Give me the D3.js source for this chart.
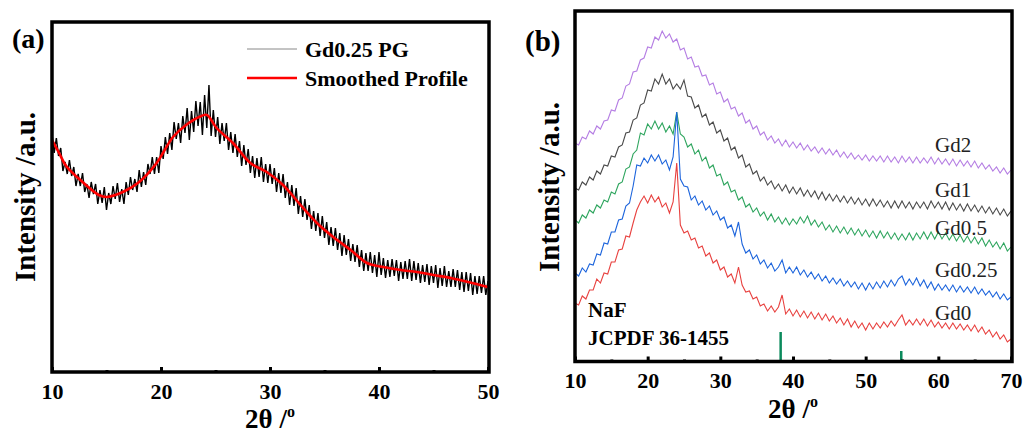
<!DOCTYPE html>
<html><head><meta charset="utf-8">
<script src="https://cdn.jsdelivr.net/npm/d3@7"></script>
<style>
body{margin:0;background:#fff}
svg{display:block}
text{font-family:"Liberation Serif","Times New Roman",serif}
</style>
</head><body>
<svg id="c" width="1024" height="434"></svg>
<script>
// ---------- Panel (a) data ----------
const ticksA = [10, 20, 30, 40, 50];
const minorA = [15, 25, 35, 45];
const stepA = 0.2; // 2θ sampling step of the raw pattern
const rawA = [
238,219,234,216,224,201,210,198,212,196,
205,186,198,186,199,180,188,174,190,178,
188,168,182,169,185,162,179,168,186,173,
189,170,183,168,190,177,195,182,193,180,
202,185,200,187,208,198,215,198,215,199,
226,213,235,218,239,222,250,233,249,229,
256,239,264,232,261,240,271,246,270,237,
277,244,287,236,262,235,255,228,249,231,
249,222,240,219,238,215,231,206,227,207,
223,199,216,194,214,195,215,190,208,189,
208,188,204,180,199,179,198,174,190,167,
187,166,184,158,176,155,173,152,167,143,
161,141,159,136,156,134,150,127,145,126,
144,122,139,116,137,117,133,111,128,110,
127,105,122,101,119,101,120,99,117,95,
120,97,114,94,112,95,113,96,112,91,
110,93,111,93,113,91,111,92,109,89,
107,90,108,87,106,89,107,84,104,86,
106,85,101,85,103,85,102,82,100,80,
100,81,99,77,96,78,96,79,96,77,
91];
const smoothAX = [10,10.65,11.3,12.8,14.3,15,16.5,18,19.6,21.1,22.3,23.5,24.2,25.1,26.6,28.2,29.7,31.2,32.8,34.3,35.8,37.4,38.9,40.4,42,43.5,45,46.6,48.2,50];
const smoothAY = [232,219,206,190,177,175,180,190,209,235,247,255,257,244,229,209,200,187,167,149,135,122,109,105,102,100,97,94,90,85];
const legendA = ["Gd0.25 PG", "Smoothed Profile"];

// ---------- Panel (b) data ----------
const ticksB = [10, 20, 30, 40, 50, 60, 70];
const minorB = [15, 25, 35, 45, 55, 65];
const stepB = 0.5;
const namesB = ["Gd2", "Gd1", "Gd0.5", "Gd0.25", "Gd0"];
const gd2 = [
219,217,225,223,231,228,236,233,241,242,
252,251,262,264,276,278,290,291,302,304,
315,314,325,322,331,324,328,320,323,312,
314,303,305,295,296,286,287,277,279,268,
270,260,263,253,255,246,249,239,242,233,
236,227,230,222,226,219,223,216,222,215,
220,214,219,212,217,211,215,209,214,208,
213,207,212,205,210,204,209,203,207,202,
207,201,206,201,206,200,206,200,205,199,
206,200,205,199,205,199,204,199,205,198,
204,198,203,197,203,196,202,196,201,195,
201,194,199,193,197,191,195,189,194,188,
192];
const gd1 = [
174,172,180,177,185,182,191,188,197,196,
206,205,215,217,229,230,242,244,257,259,
272,271,283,278,288,278,283,273,278,273,
282,266,265,254,257,245,248,237,240,229,
232,221,224,212,215,204,207,195,198,188,
191,181,185,177,181,173,178,171,177,169,
175,168,174,166,172,165,171,163,170,162,
168,161,167,160,166,159,165,158,164,157,
163,156,163,156,162,155,161,154,161,154,
161,154,160,153,160,154,160,153,161,154,
160,153,160,152,159,152,158,151,158,151,
157,150,156,149,155,148,154,147,153,146,
151];
const gd05 = [
142,139,147,144,152,149,157,154,162,160,
170,168,178,180,193,195,208,212,229,227,
238,233,241,233,239,230,236,228,250,228,
225,215,218,208,212,201,205,194,197,186,
188,177,180,170,172,162,165,155,158,150,
154,146,150,142,148,140,145,138,144,137,
143,138,145,139,146,137,142,135,140,132,
137,130,136,129,135,128,134,127,133,126,
132,125,131,124,131,124,130,123,129,122,
128,122,129,122,129,123,130,123,130,123,
130,123,129,122,128,121,127,120,126,119,
125,118,124,116,122,115,120,113,119,111,
115];
const gd025 = [
89,86,94,90,98,97,108,107,119,118,
130,130,142,143,156,159,176,197,196,204,
199,207,201,207,198,202,192,205,250,183,
176,175,162,166,157,161,152,156,147,151,
142,145,134,137,126,140,118,109,112,103,
107,98,102,94,99,91,95,102,89,95,
89,95,87,92,85,90,83,88,81,86,
79,84,78,83,76,81,75,80,73,79,
72,79,73,80,74,81,75,82,76,83,
86,77,83,77,84,76,82,74,80,72,
78,72,77,71,77,70,76,70,75,69,
75,68,73,67,71,65,70,63,68,62,
65];
const gd0 = [
59,57,66,63,72,72,83,79,89,88,
100,100,112,113,126,125,139,152,160,166,
159,167,160,165,155,159,149,160,199,137,
129,131,122,124,114,116,106,109,99,102,
92,95,85,88,79,95,77,70,71,63,
65,56,58,51,56,50,55,67,48,53,
46,52,45,51,44,50,43,49,42,48,
41,46,39,44,37,43,35,41,34,39,
32,39,33,39,34,40,35,41,36,42,
47,37,42,37,43,37,43,36,42,35,
40,34,39,33,39,33,38,32,37,31,
37,30,35,28,32,25,30,23,27,20,
23];
const seriesB = [gd2, gd1, gd05, gd025, gd0];
const colorsB = ["#b57ee3", "#4a4a4a", "#2ea55e", "#1c64dc", "#e8413f"];
const nafPos = [38.3, 54.9];
const nafInt = [30, 11];
const nafText = ["NaF", "JCPDF 36-1455"];

// ---------- drawing ----------
const svg = d3.select("#c");
const F = '"Liberation Serif","Times New Roman",serif';

function xTitle(g, x, y) {
  const t = g.append("text").attr("x", x).attr("y", y).attr("text-anchor", "middle")
    .attr("font-size", 27).attr("font-weight", "bold");
  t.append("tspan").text("2θ /");
  t.append("tspan").attr("font-size", 16).attr("dy", -11).text("o");
}
function yTitle(g, x, y) {
  g.append("text").attr("transform", `translate(${x},${y}) rotate(-90)`)
    .attr("text-anchor", "middle").attr("font-size", 29).attr("font-weight", "bold")
    .text("Intensity /a.u.");
}
function axes(g, x, yBottom, major, minor) {
  const ax = g.append("g").attr("transform", `translate(0,${yBottom})`)
    .call(d3.axisBottom(x).tickValues(major).tickSize(-5).tickPadding(11).tickFormat(d3.format("d")));
  ax.select(".domain").remove();
  ax.selectAll(".tick line").attr("stroke", "#000").attr("stroke-width", 3);
  ax.selectAll("text").attr("font-size", 22).attr("font-weight", "bold").attr("font-family", F).attr("fill", "#000");
  const mx = g.append("g").attr("transform", `translate(0,${yBottom})`)
    .call(d3.axisBottom(x).tickValues(minor).tickSize(-2).tickFormat(""));
  mx.select(".domain").remove();
  mx.selectAll(".tick line").attr("stroke", "#000").attr("stroke-width", 3);
}

// Panel (a)
{
  const g = svg.append("g");
  const x = d3.scaleLinear([10, 50], [52, 488]);
  const y = d3.scaleLinear([0, 350], [372, 22]);
  g.append("clipPath").attr("id", "clipA").append("rect").attr("x", 53).attr("y", 23).attr("width", 435).attr("height", 348);
  const line = d3.line().x((d, i) => x(10 + i * stepA)).y(d => y(d));
  g.append("path").datum(rawA).attr("clip-path", "url(#clipA)").attr("d", line)
    .attr("fill", "none").attr("stroke", "#000").attr("stroke-width", 1.4);
  const sm = d3.line().x(d => x(d[0])).y(d => y(d[1])).curve(d3.curveCatmullRom);
  g.append("path").datum(smoothAX.map((v, i) => [v, smoothAY[i]])).attr("d", sm)
    .attr("fill", "none").attr("stroke", "#ff0000").attr("stroke-width", 2.6);
  axes(g, x, 372, ticksA, minorA);
  g.append("rect").attr("x", 52).attr("y", 22).attr("width", 437).attr("height", 350)
    .attr("fill", "none").attr("stroke", "#000").attr("stroke-width", 3.5);
  // legend
  g.append("line").attr("x1", 247).attr("x2", 297).attr("y1", 49).attr("y2", 49).attr("stroke", "#888").attr("stroke-width", 1);
  g.append("line").attr("x1", 247).attr("x2", 297).attr("y1", 78).attr("y2", 78).attr("stroke", "#ff0000").attr("stroke-width", 2.6);
  g.append("text").attr("x", 305).attr("y", 57).attr("font-size", 22).attr("font-weight", "bold").text(legendA[0]);
  g.append("text").attr("x", 305).attr("y", 86).attr("font-size", 22).attr("font-weight", "bold").text(legendA[1]);
  g.append("text").attr("x", 12).attr("y", 48).attr("font-size", 28).attr("font-weight", "bold").text("(a)");
  xTitle(g, 270, 428);
  yTitle(g, 35, 197);
}

// Panel (b)
{
  const g = svg.append("g");
  const x = d3.scaleLinear([10, 70], [575, 1011]);
  const y = d3.scaleLinear([0, 352], [362, 10]);
  g.append("clipPath").attr("id", "clipB").append("rect").attr("x", 576).attr("y", 12).attr("width", 435).attr("height", 348);
  const line = d3.line().x((d, i) => x(10 + i * stepB)).y(d => y(d));
  seriesB.forEach((s, k) => {
    g.append("path").datum(s).attr("clip-path", "url(#clipB)").attr("d", line)
      .attr("fill", "none").attr("stroke", colorsB[k]).attr("stroke-width", 1.1);
  });
  // NaF reference bars
  g.selectAll(".naf").data(nafPos).enter().append("line")
    .attr("x1", d => x(d)).attr("x2", d => x(d))
    .attr("y1", y(0)).attr("y2", (d, i) => y(nafInt[i]))
    .attr("stroke", "#0b8a5c").attr("stroke-width", 2.5);
  axes(g, x, 361.5, ticksB, minorB);
  g.append("rect").attr("x", 575).attr("y", 11).attr("width", 437).attr("height", 350.5)
    .attr("fill", "none").attr("stroke", "#000").attr("stroke-width", 3.5);
  const labY = [152, 197, 235, 277, 320];
  namesB.forEach((n, k) => {
    g.append("text").attr("x", 935).attr("y", labY[k]).attr("font-size", 21).attr("fill", "#222").text(n);
  });
  g.append("text").attr("x", 588).attr("y", 317).attr("font-size", 21).attr("font-weight", "bold").text(nafText[0]);
  g.append("text").attr("x", 588).attr("y", 345).attr("font-size", 21).attr("font-weight", "bold").text(nafText[1]);
  g.append("text").attr("x", 525).attr("y", 51).attr("font-size", 29).attr("font-weight", "bold").text("(b)");
  xTitle(g, 793, 418);
  yTitle(g, 559, 187);
}
</script>
</body></html>
